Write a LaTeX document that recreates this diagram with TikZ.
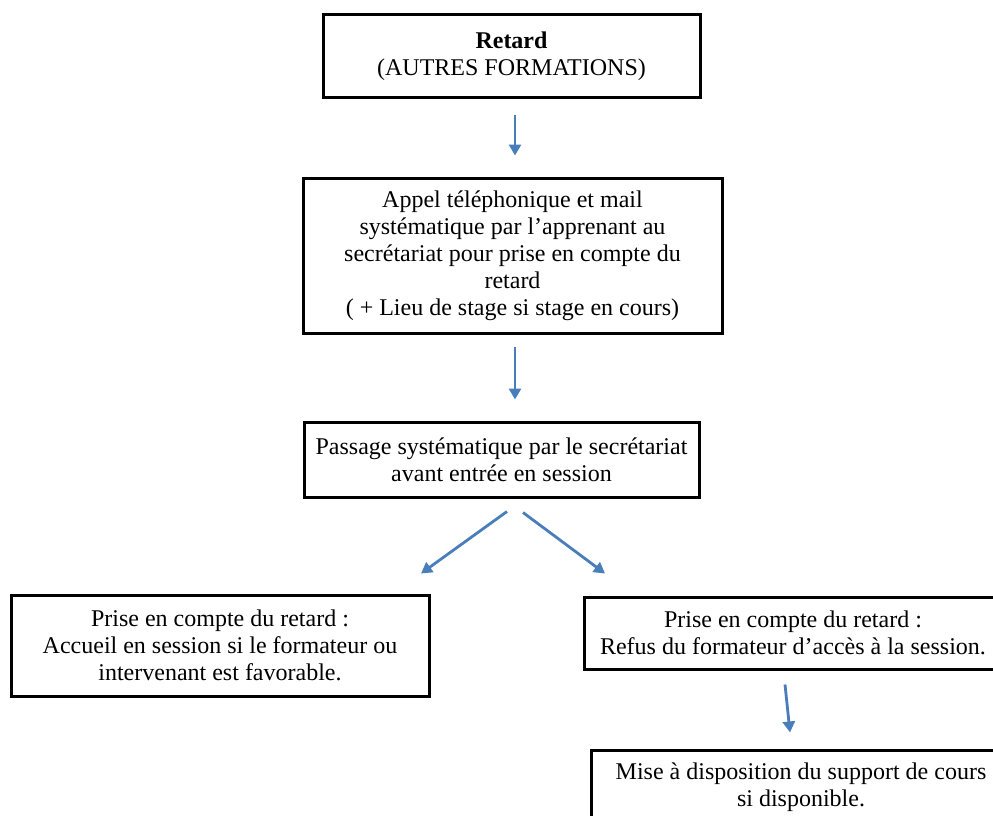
\documentclass[tikz,border=0pt]{standalone}
\usepackage{fontspec}
\setmainfont{Liberation Serif}
\usetikzlibrary{calc,arrows.meta}
\definecolor{arrblue}{HTML}{4A7EBB}
\begin{document}
\begin{tikzpicture}[x=1pt,y=-1pt,
 box/.style={draw=black,line width=3pt,inner sep=0pt,align=center,font=\fontsize{24}{27}\selectfont},
 arr/.style={draw=arrblue,line width=2.8pt,-{Triangle[length=11pt,width=12pt]}}]
\useasboundingbox (0,0) rectangle (993,816);
\clip (0,0) rectangle (993,816);
\fill[white] (0,0) rectangle (993,816);
\node[box,minimum width=377pt,minimum height=82pt] (b1) at (511.5,56)
  {\textbf{Retard}\\(AUTRES FORMATIONS)};
\node[box,minimum width=419pt,minimum height=155pt] (b2) at (512.5,255.5)
  {Appel téléphonique et mail\\systématique par l’apprenant au\\secrétariat pour prise en compte du\\retard\\( + Lieu de stage si stage en cours)};
\node[box,minimum width=395pt,minimum height=75pt] (b3) at (501.5,459.5)
  {Passage systématique par le secrétariat\\avant entrée en session};
\node[box,minimum width=418pt,minimum height=101pt] (b4) at (220,645.5)
  {Prise en compte du retard :\\Accueil en session si le formateur ou\\intervenant est favorable.};
\node[box,minimum width=418pt,minimum height=72pt] (b5) at (793,633)
  {Prise en compte du retard :\\Refus du formateur d’accès à la session.};
\node[box,minimum width=420pt,minimum height=74pt] (b6) at (801,787)
  {Mise à disposition du support de cours\\si disponible.};
\draw[arr] ($(b1.south)+(3.5,16)$) -- ($(b2.north)+(2.5,-21)$);
\draw[arr] ($(b2.south)+(2.5,12)$) -- ($(b3.north)+(13.5,-21)$);
\draw[arr] ($(b3.south)+(5.5,13)$) -- ($(b4.north)+(201,-20)$);
\draw[arr] ($(b3.south)+(21.5,14)$) -- ($(b5.north)+(-188,-22)$);
\draw[arr] ($(b5.south)+(-8,14)$) -- ($(b6.north)+(-11,-16)$);
\end{tikzpicture}
\end{document}
